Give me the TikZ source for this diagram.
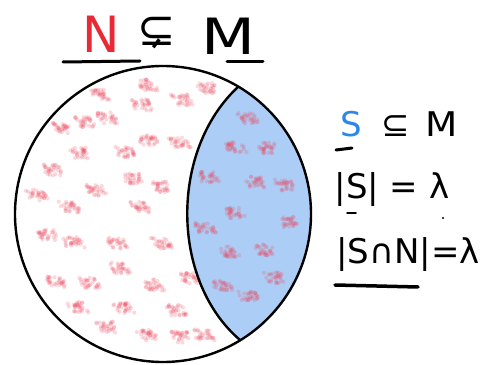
\documentclass[tikz,border=0pt]{standalone}
\usepackage{fontspec}
\setmainfont{DejaVu Sans}
\definecolor{nred}{RGB}{232,42,55}
\definecolor{sblue}{RGB}{45,135,235}
\definecolor{lblue}{RGB}{172,206,246}
\definecolor{dotred}{RGB}{236,70,92}
\begin{document}
\begin{tikzpicture}[x=1pt,y=1pt,
  ink/.style={line width=2.4pt,line cap=round},
  bar/.style={line width=3pt,line cap=round},
  big/.style={inner sep=0pt,font=\fontsize{50}{50}\selectfont},
  mid/.style={inner sep=0pt,font=\fontsize{34}{34}\selectfont}]
\useasboundingbox (0,0) rectangle (487,364);
\fill[white] (0,0) rectangle (487,364);
% blue region S
\fill[lblue] (238,277) arc[start angle=59.4,end angle=-58.6,radius=148]
  .. controls (170,84) and (170,214) .. (238,277) -- cycle;
% red clusters
\pgfmathsetseed{7}
\foreach \cx/\cy in {100/95,148/85,207/88,142/105,182/100,107/118,63/128,85/122,148/140,180/143,80/153,125/152,53/170,133/178,97/190,162/187,37/195,70/207,140/207,47/235,73/242,117/243,162/243,120/268,190/278,57/282,90/283,153/285,77/307,123/308,177/310,107/327,147/335,182/337,203/335,248/118,235/147,268/148,208/177,255/182,285/185,235/213,288/222,205/228,230/252,265/250,275/278,222/285,248/295}{
  \foreach \k in {1,...,30}{
    \pgfmathsetmacro\dx{rand*9}
    \pgfmathsetmacro\dy{rand*5.5}
    \fill[dotred,opacity=0.2] ({\cx+\dx-0.5*\dy},{364-\cy+\dy}) circle[radius=2.1];
  }
}
% universe circle M
\node[circle,draw,ink,minimum size=296pt,inner sep=0pt] (U) at (163,150) {};
% chord bounding S
\coordinate (ct) at (238,277);
\coordinate (cb) at (240,24);
\draw[ink] (ct) .. controls (170,214) and (170,84) .. (cb);
% title N (subsetneq) M
\node[big,text=nred] (N) at (101,330) {N};
\node[inner sep=0pt,font=\fontsize{46}{46}\selectfont] (sub) at (157,331) {⊊};
\node[big,xscale=1.25] (M) at (228,328) {M};
\coordinate (n1) at (63,302); \coordinate (n2) at (140,303);
\coordinate (m1) at (227,302); \coordinate (m2) at (263,302);
\draw[bar] (n1) -- (n2);
\draw[bar] (m1) -- (m2);
% right statements
\node[mid,text=sblue] (S) at (351,240) {S};
\node[mid] (se) at (396,238) {⊆};
\node[mid,xscale=1.1] (M2) at (442,240) {M};
\coordinate (s1) at (336,214); \coordinate (s2) at (352,216);
\draw[bar] (s1) -- (s2);
\node[mid] (L2) at (392,174) {|S| = λ};
\coordinate (t1) at (347,151); \coordinate (t2) at (356,151);
\draw[line width=1.5pt,line cap=round] (t1) -- (t2);
\fill (443,146) circle[radius=1.2];
\node[mid] (L3) at (408,109) {|S∩N|=λ};
\coordinate (u1) at (335,79); \coordinate (u2) at (418,77);
\draw[line width=3.5pt,line cap=round] (u1) -- (u2);
\end{tikzpicture}
\end{document}
